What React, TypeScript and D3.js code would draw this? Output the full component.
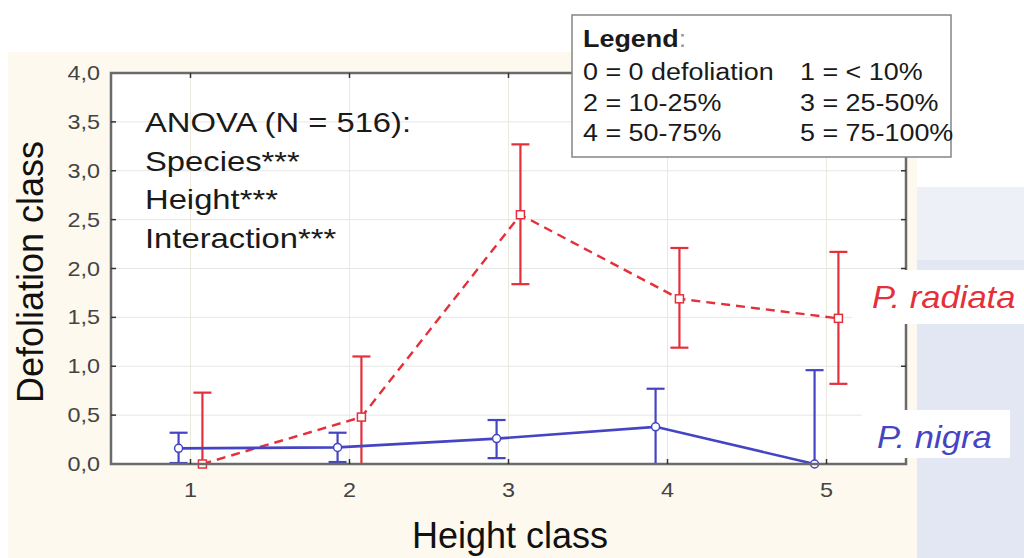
import React from 'react';
import * as d3 from 'd3';

// data
const heightClasses = [1, 2, 3, 4, 5];
const yTicks = [0, 0.5, 1, 1.5, 2, 2.5, 3, 3.5, 4];

const nigraMean = [0.16, 0.17, 0.26, 0.38, 0.0];
const nigraUpper = [0.32, 0.32, 0.45, 0.77, 0.96];
const nigraLower = [0.01, 0.02, 0.06, -0.01, -0.96];

const radiataMean = [0.0, 0.48, 2.55, 1.69, 1.49];
const radiataUpper = [0.73, 1.1, 3.27, 2.21, 2.17];
const radiataLower = [-0.73, -0.14, 1.84, 1.19, 0.82];

const anovaLines = ['ANOVA (N = 516):', 'Species***', 'Height***', 'Interaction***'];
const legendRows = [
  ['0 = 0 defoliation', '1 = < 10%'],
  ['2 = 10-25%', '3 = 25-50%'],
  ['4 = 50-75%', '5 = 75-100%'],
];

const W = 1024;
const H = 558;
const plot = { left: 111, right: 906, top: 73, bottom: 464 };
const FONT = '"Liberation Sans", Arial, sans-serif';
const SX = 1.17; // inner text is drawn wider than plain Arial

const NIGRA = '#4444c4';
const RADIATA = '#e4303a';

export default function App() {
  const x = d3.scaleLinear().domain([0.5, 5.5]).range([plot.left, plot.right]);
  const y = d3.scaleLinear().domain([0, 4]).range([plot.bottom, plot.top]);
  const shift = 0.075; // the two series are drawn a bit apart around each class

  const nigraPts = heightClasses.map((c, i) => [x(c - shift), y(nigraMean[i])] as [number, number]);
  const radiataPts = heightClasses.map((c, i) => [x(c + shift), y(radiataMean[i])] as [number, number]);
  const path = d3.line();

  const errorBars = (cx: number[], lo: number[], hi: number[], color: string, key: string) =>
    cx.map((c, i) => (
      <g key={key + i} stroke={color} strokeWidth={2.2}>
        <line x1={c} x2={c} y1={y(lo[i])} y2={y(hi[i])} />
        <line x1={c - 9} x2={c + 9} y1={y(hi[i])} y2={y(hi[i])} />
        <line x1={c - 9} x2={c + 9} y1={y(lo[i])} y2={y(lo[i])} />
      </g>
    ));

  const axisColor = '#6a6a6a';

  return (
    <svg width={W} height={H} style={{ position: 'absolute', left: 0, top: 0, display: 'block' }}>
      <defs>
        <clipPath id="plotClip">
          <rect x={plot.left} y={plot.top} width={plot.right - plot.left} height={plot.bottom - plot.top} />
        </clipPath>
      </defs>

      {/* backgrounds */}
      <rect x={0} y={0} width={W} height={H} fill="#ffffff" />
      <rect x={8} y={52} width={909} height={H - 52} fill="#fdf9ee" />
      <rect x={917} y={187} width={W - 917} height={73} fill="#eef0f8" />
      <rect x={917} y={260} width={W - 917} height={H - 260} fill="#e3e7f3" />
      <rect x={plot.left} y={plot.top} width={plot.right - plot.left} height={plot.bottom - plot.top} fill="#ffffff" />

      {/* grid */}
      {yTicks.slice(1, -1).map((t) => (
        <line key={'gy' + t} x1={plot.left} x2={plot.right} y1={y(t)} y2={y(t)} stroke="#e6e6e6" strokeWidth={1} />
      ))}
      {heightClasses.map((c) => (
        <line key={'gx' + c} x1={x(c)} x2={x(c)} y1={plot.top} y2={plot.bottom} stroke="#ebe9dc" strokeWidth={1} />
      ))}

      {/* series */}
      <g clipPath="url(#plotClip)">
        {errorBars(heightClasses.map((c) => x(c + shift)), radiataLower, radiataUpper, RADIATA, 'r')}
        {errorBars(heightClasses.map((c) => x(c - shift)), nigraLower, nigraUpper, NIGRA, 'n')}
        <path d={path(radiataPts) || ''} fill="none" stroke={RADIATA} strokeWidth={2.4} strokeDasharray="9,6" />
        <path d={path(nigraPts) || ''} fill="none" stroke={NIGRA} strokeWidth={2.6} />
      </g>
      {radiataPts.map(([px, py], i) => (
        <rect key={'rm' + i} x={px - 4} y={py - 4} width={8} height={8} fill="#fff" stroke={RADIATA} strokeWidth={1.5} />
      ))}
      {nigraPts.map(([px, py], i) => (
        <circle key={'nm' + i} cx={px} cy={py} r={4} fill="#fff" stroke={NIGRA} strokeWidth={1.5} />
      ))}

      {/* frame and ticks */}
      <rect x={plot.left} y={plot.top} width={plot.right - plot.left} height={plot.bottom - plot.top} fill="none" stroke={axisColor} strokeWidth={2.5} />
      {yTicks.slice(1, -1).map((t) => (
        <g key={'ty' + t} stroke="#333" strokeWidth={1.5}>
          <line x1={plot.left} x2={plot.left + 5} y1={y(t)} y2={y(t)} />
          <line x1={plot.right - 5} x2={plot.right} y1={y(t)} y2={y(t)} />
        </g>
      ))}
      {heightClasses.map((c) => (
        <g key={'tx' + c} stroke="#333" strokeWidth={1.5}>
          <line x1={x(c)} x2={x(c)} y1={plot.bottom} y2={plot.bottom - 5} />
          <line x1={x(c)} x2={x(c)} y1={plot.top} y2={plot.top + 5} />
        </g>
      ))}

      {/* tick labels */}
      {yTicks.map((t) => (
        <text
          key={'ly' + t}
          transform={`translate(100,${y(t) + 7}) scale(${SX},1)`}
          textAnchor="end"
          fontFamily={FONT}
          fontSize={20}
          fill="#444"
        >
          {d3.format('.1f')(t).replace('.', ',')}
        </text>
      ))}
      {heightClasses.map((c) => (
        <text
          key={'lx' + c}
          transform={`translate(${x(c)},497) scale(${SX},1)`}
          textAnchor="middle"
          fontFamily={FONT}
          fontSize={20}
          fill="#444"
        >
          {c}
        </text>
      ))}

      {/* axis titles */}
      <text transform="translate(43,272) rotate(-90)" textAnchor="middle" fontFamily={FONT} fontSize={36} fill="#111">
        Defoliation class
      </text>
      <text x={510} y={548} textAnchor="middle" fontFamily={FONT} fontSize={36} fill="#111">
        Height class
      </text>

      {/* ANOVA note */}
      {anovaLines.map((s, i) => (
        <text
          key={'a' + i}
          transform={`translate(145,${132 + i * 38.5}) scale(${SX},1)`}
          fontFamily={FONT}
          fontSize={28}
          fill="#1a1a1a"
        >
          {s}
        </text>
      ))}

      {/* legend box */}
      <rect x={572} y={15} width={379} height={142} fill="#ffffff" stroke="#858585" strokeWidth={1.5} />
      <text transform={`translate(583,47) scale(${SX},1)`} fontFamily={FONT} fontSize={23} fill="#1a1a1a">
        <tspan fontWeight="bold">Legend</tspan>
        <tspan fill="#999">:</tspan>
      </text>
      {legendRows.map((row, i) => (
        <g key={'lg' + i}>
          <text transform={`translate(583,${80 + i * 30.5}) scale(${SX},1)`} fontFamily={FONT} fontSize={23} fill="#1a1a1a">
            {row[0]}
          </text>
          <text transform={`translate(800,${80 + i * 30.5}) scale(${SX},1)`} fontFamily={FONT} fontSize={23} fill="#1a1a1a">
            {row[1]}
          </text>
        </g>
      ))}

      {/* series labels */}
      <rect x={852} y={270} width={W - 852} height={54} fill="#ffffff" />
      <text transform="translate(872,308) scale(1.08,1)" fontFamily={FONT} fontSize={32} fontStyle="italic" fill={RADIATA}>
        P. radiata
      </text>
      <rect x={862} y={410} width={148} height={48} fill="#ffffff" />
      <text transform="translate(877,448) scale(1.08,1)" fontFamily={FONT} fontSize={32} fontStyle="italic" fill={NIGRA}>
        P. nigra
      </text>
    </svg>
  );
}
